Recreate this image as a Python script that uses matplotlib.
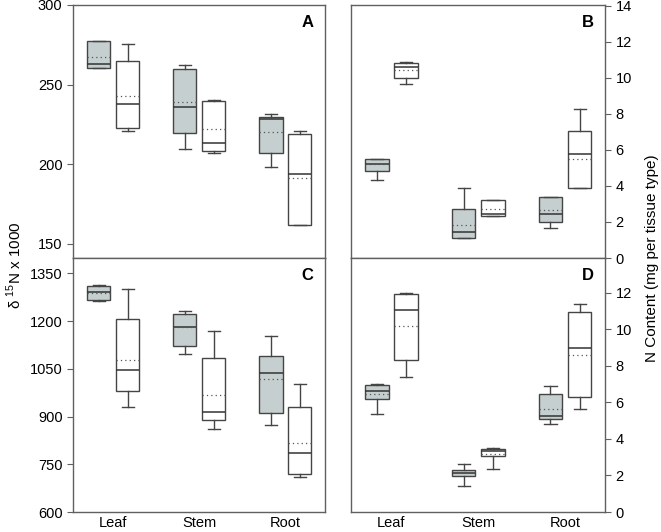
import numpy as np
import matplotlib.pyplot as plt

plt.rcParams['font.family'] = ['Liberation Sans', 'DejaVu Sans']
plt.rcParams['mathtext.fontset'] = 'custom'
plt.rcParams['mathtext.rm'] = 'Liberation Sans'

tissues = ['Leaf', 'Stem', 'Root']

# each row: whisker low, q1, median, mean, q3, whisker high  (Leaf, Stem, Root)
a_grey = [[260.3, 260.3, 262.8, 267.6, 277.6, 277.6],
          [209.6, 219.5, 235.8, 238.9, 259.6, 262.1],
          [197.9, 207.3, 228.2, 220.3, 229.9, 231.4]]
a_white = [[220.7, 222.6, 237.9, 242.5, 264.6, 275.7],
           [207.1, 208.2, 213.2, 222.0, 239.5, 240.4],
           [161.7, 161.7, 194.1, 191.2, 219.0, 221.1]]

b_grey = [[4.33, 4.85, 5.24, 5.22, 5.50, 5.52],
          [1.09, 1.09, 1.44, 1.81, 2.70, 3.89],
          [1.65, 2.00, 2.44, 2.65, 3.39, 3.39]]
b_white = [[9.67, 10.00, 10.61, 10.44, 10.83, 10.87],
           [2.31, 2.35, 2.46, 2.72, 3.20, 3.24],
           [3.89, 3.89, 5.78, 5.52, 7.04, 8.26]]

c_grey = [[1262.6, 1267, 1290, 1289, 1311, 1313],
          [1095, 1122.5, 1180.4, 1180.4, 1223.6, 1233],
          [872.8, 909.7, 1036, 1018, 1090.9, 1153]]
c_white = [[929.7, 981.3, 1046.6, 1076, 1207.8, 1301.5],
           [862.3, 889.7, 913.9, 966.6, 1082.4, 1168.8],
           [709.5, 719, 785.4, 816, 928.6, 1003.4]]

d_grey = [[5.39, 6.17, 6.60, 6.47, 6.94, 7.02],
          [1.45, 1.98, 2.14, 2.18, 2.29, 2.62],
          [4.84, 5.08, 5.28, 5.61, 6.47, 6.91]]
d_white = [[7.40, 8.32, 11.08, 10.19, 11.93, 11.96],
            [2.38, 3.04, 3.35, 3.20, 3.44, 3.48],
            [5.61, 6.32, 9.00, 8.59, 10.96, 11.40]]

GREY = '#c6cfcf'
EDGE = '#454545'
SPINE = '#606060'


def stats(rows):
    return [dict(whislo=r[0], q1=r[1], med=r[2], mean=r[3], q3=r[4], whishi=r[5])
            for r in rows]


def panel(ax, grey, white, letter, ylim, yticks, bottom):
    pos = np.arange(1, 4)
    for rows, off, fc in ((grey, -0.168, GREY), (white, 0.168, 'white')):
        ax.bxp(stats(rows), positions=pos + off, widths=0.27, capwidths=0.14,
               patch_artist=True, showmeans=True, meanline=True, showfliers=False,
               boxprops=dict(facecolor=fc, edgecolor=EDGE, linewidth=1),
               medianprops=dict(color='#333333', linewidth=1.1),
               meanprops=dict(color='#555555', linestyle=(0, (1, 2.5)), linewidth=0.9),
               whiskerprops=dict(color=EDGE, linewidth=1),
               capprops=dict(color=EDGE, linewidth=1))
    ax.set_xlim(0.535, 3.46)
    ax.set_ylim(*ylim)
    ax.set_yticks(yticks)
    ax.set_xticks(pos)
    if bottom:
        ax.set_xticklabels(tissues, fontsize=10.5)
    else:
        ax.set_xticklabels([])
    ax.tick_params(axis='x', length=0, pad=3)
    ax.tick_params(axis='y', length=4, color=SPINE, labelsize=10.5)
    for s in ax.spines.values():
        s.set_color(SPINE)
        s.set_linewidth(1)
    ax.text(0.955, 0.93, letter, transform=ax.transAxes, ha='right', va='center',
            fontsize=12, fontweight='bold')


fig = plt.figure(figsize=(6.61, 5.32), dpi=100)
W, H = 661, 532


def box(x0, y0, x1, y1):
    return [x0 / W, 1 - y1 / H, (x1 - x0) / W, (y1 - y0) / H]


axA = fig.add_axes(box(73, 5, 325, 258))
axC = fig.add_axes(box(73, 258, 325, 512))
axB = fig.add_axes(box(351, 5, 605, 258))
axD = fig.add_axes(box(351, 258, 605, 512))

panel(axA, a_grey, a_white, 'A', (141, 300), [150, 200, 250, 300], False)
panel(axC, c_grey, c_white, 'C', (600, 1398), [600, 750, 900, 1050, 1200, 1350], True)
panel(axB, b_grey, b_white, 'B', (0, 14.05), list(range(0, 15, 2)), False)
panel(axD, d_grey, d_white, 'D', (0, 13.9), list(range(0, 13, 2)), True)

for ax in (axB, axD):
    ax.yaxis.tick_right()

fig.text(14 / W, 1 - 265 / H, 'δ $^{\\mathregular{15}}$N x 1000', rotation=90, ha='center',
         va='center', fontsize=11)
fig.text(652 / W, 1 - 258 / H, 'N Content (mg per tissue type)', rotation=90, ha='center',
         va='center', fontsize=11)

fig.savefig('out.png', dpi=100)
